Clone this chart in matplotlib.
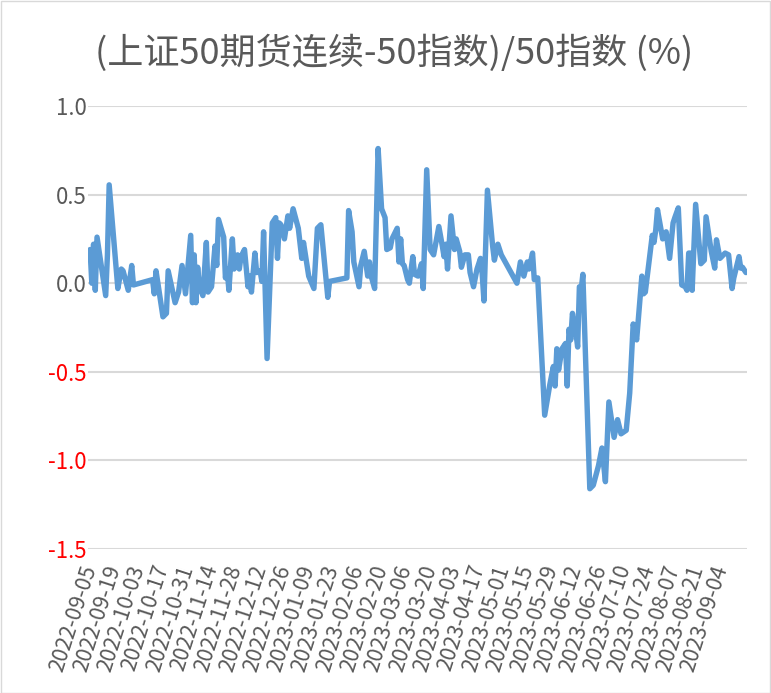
import matplotlib
matplotlib.use("Agg")
import matplotlib.pyplot as plt
from matplotlib.patches import Rectangle
import pandas as pd

plt.rcParams['font.family'] = ['Noto Sans CJK SC', 'DejaVu Sans']

title = "(上证50期货连续-50指数)/50指数 (%)"
start_date = "2022-09-05"
# day offsets from start_date of the line's vertices
day_offsets = [
    0, 1, 2, 3, 4, 7, 9, 10, 11, 16, 18, 19, 22, 24, 25, 36, 37, 38, 42, 44,
    45, 49, 51, 53, 55, 58, 59, 60, 61, 62, 63, 65, 67, 68, 70, 72, 73, 74, 77, 78,
    79, 80, 82, 83, 85, 86, 87, 89, 91, 92, 93, 95, 96, 98, 99, 100, 102, 105, 107, 108,
    109, 110, 112, 114, 115, 117, 120, 122, 123, 126, 129, 131, 133, 137, 138, 148, 149, 151, 152, 155,
    156, 158, 160, 161, 162, 164, 166, 168, 170, 171, 173, 174, 177, 178, 179, 180, 181, 183, 184, 186,
    187, 189, 191, 192, 194, 196, 198, 201, 203, 204, 205, 206, 208, 210, 211, 213, 214, 216, 218, 219,
    221, 223, 225, 226, 227, 229, 232, 233, 235, 237, 246, 248, 250, 252, 253, 255, 256, 258, 262, 265,
    267, 268, 269, 270, 272, 274, 275, 276, 277, 278, 280, 281, 282, 283, 284, 288, 290, 293, 295, 297,
    299, 302, 304, 306, 309, 311, 313, 315, 318, 319, 320, 324, 325, 326, 327, 330, 332, 334, 336, 337,
    339, 341, 343, 344, 345, 346, 347, 349, 352, 354, 355, 358, 360, 361, 363, 366, 368, 370, 371, 374,
    375, 376, 378,
]
values = [
    0.19, 0.00, 0.22, -0.04, 0.26, 0.06, -0.07, 0.16, 0.555, -0.03, 0.08, 0.07, -0.04, 0.10, -0.01, 0.02, -0.06, 0.07, -0.19, -0.17,
    0.07, -0.11, -0.05, 0.10, -0.06, 0.27, -0.11, 0.16, -0.11, 0.09, -0.02, -0.07, 0.23, -0.05, -0.02, 0.21, 0.10, 0.36, 0.26, 0.03,
    0.08, -0.04, 0.25, 0.08, 0.16, 0.08, 0.15, 0.19, -0.02, 0.04, -0.05, 0.17, 0.06, 0.07, 0.01, 0.29, -0.425, 0.34, 0.37, 0.14,
    0.34, 0.33, 0.25, 0.38, 0.31, 0.42, 0.31, 0.14, 0.23, 0.04, -0.03, 0.31, 0.33, -0.08, 0.01, 0.03, 0.41, 0.29, 0.12, -0.02,
    0.10, 0.18, 0.04, 0.12, 0.04, -0.03, 0.76, 0.42, 0.37, 0.19, 0.20, 0.25, 0.31, 0.12, 0.25, 0.11, 0.10, 0.02, 0.00, 0.15,
    0.05, 0.04, 0.11, -0.03, 0.64, 0.19, 0.16, 0.32, 0.21, 0.15, 0.22, 0.08, 0.38, 0.19, 0.25, 0.18, 0.09, 0.16, 0.16, 0.06,
    -0.02, 0.08, 0.14, 0.05, -0.10, 0.525, 0.21, 0.13, 0.22, 0.16, 0.00, 0.12, 0.04, 0.12, 0.08, 0.17, 0.02, 0.03, -0.745, -0.57,
    -0.47, -0.58, -0.37, -0.49, -0.37, -0.34, -0.58, -0.26, -0.32, -0.17, -0.28, -0.36, -0.02, -0.04, 0.05, -1.16, -1.14, -1.03, -0.93, -1.12,
    -0.67, -0.87, -0.77, -0.85, -0.83, -0.62, -0.23, -0.32, 0.04, -0.06, -0.05, 0.27, 0.23, 0.30, 0.415, 0.25, 0.29, 0.14, 0.34, 0.37,
    0.425, -0.01, -0.02, -0.04, 0.17, 0.17, -0.04, 0.445, 0.11, 0.13, 0.375, 0.18, 0.085, 0.245, 0.14, 0.17, 0.16, -0.03, 0.03, 0.15,
    0.085, 0.09, 0.06,
]
y_ticks = [1.0, 0.5, 0.0, -0.5, -1.0, -1.5]
y_tick_labels = ["1.0", "0.5", "0.0", "-0.5", "-1.0", "-1.5"]
x_tick_dates = pd.date_range("2022-09-05", "2023-09-04", freq="14D")

base = pd.Timestamp(start_date)
dates = base + pd.to_timedelta(day_offsets, unit="D")

W, H = 771, 693
fig = plt.figure(figsize=(W / 100, H / 100), dpi=100)
fig.patch.set_facecolor("white")
fig.add_artist(Rectangle((0.5 / W, 0.5 / H), 1 - 1.5 / W, 1 - 1.5 / H, transform=fig.transFigure,
                         fill=False, edgecolor="#d9d9d9", linewidth=1.0))

ax = fig.add_axes([88 / W, 1 - 549 / H, (747 - 88) / W, (549 - 106) / H])
ax.plot(dates, values, color="#5B9BD5", linewidth=3.9, solid_joinstyle="round", solid_capstyle="round", zorder=3)

ax.set_ylim(-1.5, 1.0)
ax.set_xlim(base - pd.Timedelta(days=1.2), base + pd.Timedelta(days=378.6))
ax.set_yticks(y_ticks)
ax.set_yticklabels(y_tick_labels)
for lab, v in zip(ax.get_yticklabels(), y_ticks):
    lab.set_color("#FF0000" if v < 0 else "#595959")
ax.set_xticks(x_tick_dates)
ax.set_xticklabels([d.strftime("%Y-%m-%d") for d in x_tick_dates])
for lab in ax.get_xticklabels():
    lab.set_rotation(72)
    lab.set_ha("right")
    lab.set_va("center")
    lab.set_rotation_mode("anchor")
    lab.set_color("#595959")

ax.tick_params(axis="y", length=0, pad=1, labelsize=16)
ax.tick_params(axis="x", length=0, pad=12, labelsize=15.5)
ax.grid(axis="y", color="#d9d9d9", linewidth=1.5)
ax.grid(axis="x", visible=False)
for s in ax.spines.values():
    s.set_visible(False)
ax.set_axisbelow(True)

fig.text(0.511, 1 - 53 / H, title, ha="center", va="center", fontsize=26, color="#595959")

fig.savefig("out.png", dpi=100, facecolor="white")
